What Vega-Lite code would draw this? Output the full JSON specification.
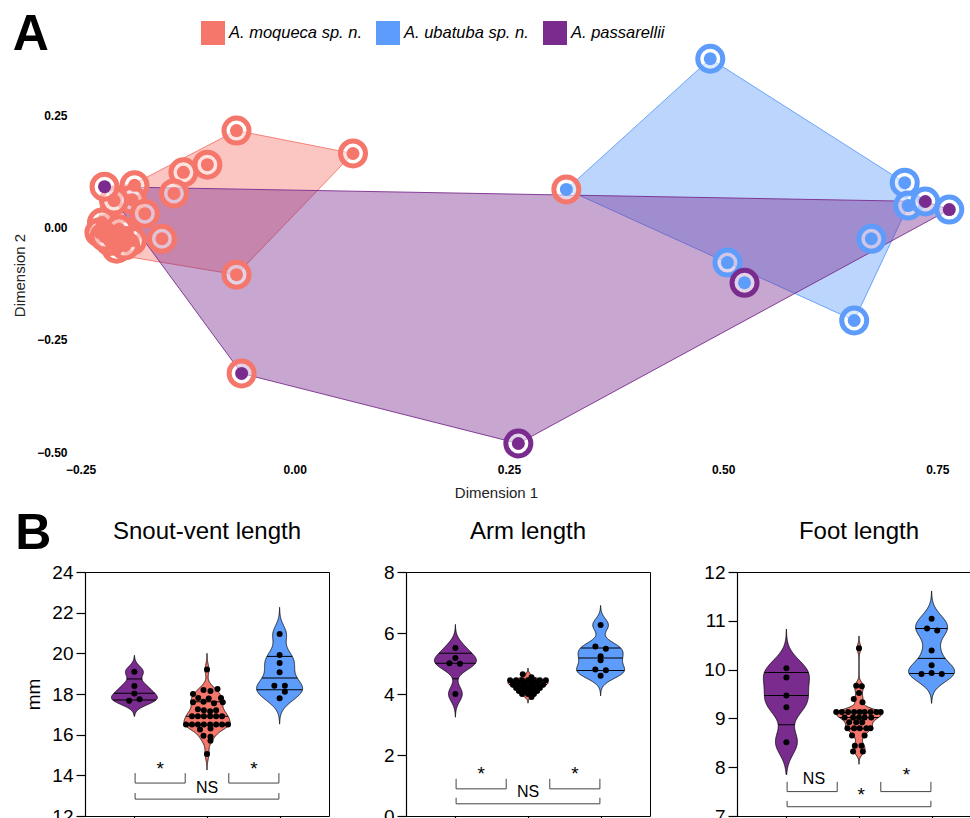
{
  "$schema": "https://vega.github.io/schema/vega-lite/v6.json",
  "padding": {"left": 12, "top": 10, "right": 0, "bottom": 0},
  "config": {
    "font": "Liberation Sans",
    "view": {"stroke": null},
    "axis": {"labelColor": "black", "titleColor": "black", "grid": false, "labelOverlap": false},
    "title": {"color": "black"}
  },
  "columns": 1,
  "align": "none",
  "bounds": "full",
  "spacing": 8,
  "datasets": {
    "pts": [
      {"d1": -0.068, "d2": 0.216, "species": "A. moqueca sp. n.", "ring": "A. moqueca sp. n."},
      {"d1": 0.068, "d2": 0.165, "species": "A. moqueca sp. n.", "ring": "A. moqueca sp. n."},
      {"d1": -0.102, "d2": 0.140, "species": "A. moqueca sp. n.", "ring": "A. moqueca sp. n."},
      {"d1": -0.130, "d2": 0.123, "species": "A. moqueca sp. n.", "ring": "A. moqueca sp. n."},
      {"d1": -0.141, "d2": 0.076, "species": "A. moqueca sp. n.", "ring": "A. moqueca sp. n."},
      {"d1": -0.187, "d2": 0.094, "species": "A. moqueca sp. n.", "ring": "A. moqueca sp. n."},
      {"d1": -0.190, "d2": 0.062, "species": "A. moqueca sp. n.", "ring": "A. moqueca sp. n."},
      {"d1": -0.211, "d2": 0.060, "species": "A. moqueca sp. n.", "ring": "A. moqueca sp. n."},
      {"d1": -0.175, "d2": 0.031, "species": "A. moqueca sp. n.", "ring": "A. moqueca sp. n."},
      {"d1": -0.155, "d2": -0.025, "species": "A. moqueca sp. n.", "ring": "A. moqueca sp. n."},
      {"d1": -0.068, "d2": -0.105, "species": "A. moqueca sp. n.", "ring": "A. moqueca sp. n."},
      {"d1": -0.219, "d2": -0.002, "species": "A. moqueca sp. n.", "ring": "A. moqueca sp. n."},
      {"d1": -0.211, "d2": -0.018, "species": "A. moqueca sp. n.", "ring": "A. moqueca sp. n."},
      {"d1": -0.202, "d2": -0.033, "species": "A. moqueca sp. n.", "ring": "A. moqueca sp. n."},
      {"d1": -0.225, "d2": 0.011, "species": "A. moqueca sp. n.", "ring": "A. moqueca sp. n."},
      {"d1": -0.196, "d2": -0.011, "species": "A. moqueca sp. n.", "ring": "A. moqueca sp. n."},
      {"d1": -0.208, "d2": -0.047, "species": "A. moqueca sp. n.", "ring": "A. moqueca sp. n."},
      {"d1": -0.190, "d2": -0.029, "species": "A. moqueca sp. n.", "ring": "A. moqueca sp. n."},
      {"d1": -0.228, "d2": -0.011, "species": "A. moqueca sp. n.", "ring": "A. moqueca sp. n."},
      {"d1": -0.205, "d2": -0.004, "species": "A. moqueca sp. n.", "ring": "A. moqueca sp. n."},
      {"d1": -0.216, "d2": -0.030, "species": "A. moqueca sp. n.", "ring": "A. moqueca sp. n."},
      {"d1": -0.198, "d2": -0.040, "species": "A. moqueca sp. n.", "ring": "A. moqueca sp. n."},
      {"d1": -0.222, "d2": -0.020, "species": "A. moqueca sp. n.", "ring": "A. moqueca sp. n."},
      {"d1": -0.222, "d2": 0.091, "species": "A. passarellii", "ring": "A. moqueca sp. n."},
      {"d1": -0.062, "d2": -0.325, "species": "A. passarellii", "ring": "A. moqueca sp. n."},
      {"d1": 0.261, "d2": -0.481, "species": "A. passarellii", "ring": "A. passarellii"},
      {"d1": 0.317, "d2": 0.085, "species": "A. ubatuba sp. n.", "ring": "A. moqueca sp. n."},
      {"d1": 0.485, "d2": 0.376, "species": "A. ubatuba sp. n.", "ring": "A. ubatuba sp. n."},
      {"d1": 0.712, "d2": 0.100, "species": "A. ubatuba sp. n.", "ring": "A. ubatuba sp. n."},
      {"d1": 0.716, "d2": 0.049, "species": "A. ubatuba sp. n.", "ring": "A. ubatuba sp. n."},
      {"d1": 0.673, "d2": -0.025, "species": "A. ubatuba sp. n.", "ring": "A. ubatuba sp. n."},
      {"d1": 0.505, "d2": -0.078, "species": "A. ubatuba sp. n.", "ring": "A. ubatuba sp. n."},
      {"d1": 0.653, "d2": -0.207, "species": "A. ubatuba sp. n.", "ring": "A. ubatuba sp. n."},
      {"d1": 0.736, "d2": 0.058, "species": "A. passarellii", "ring": "A. ubatuba sp. n."},
      {"d1": 0.764, "d2": 0.040, "species": "A. passarellii", "ring": "A. ubatuba sp. n."},
      {"d1": 0.525, "d2": -0.123, "species": "A. ubatuba sp. n.", "ring": "A. passarellii"}
    ],
    "hull": [
      {"grp": "A. moqueca sp. n.", "k": 0, "d1": -0.068, "d2": 0.216},
      {"grp": "A. moqueca sp. n.", "k": 1, "d1": 0.068, "d2": 0.165},
      {"grp": "A. moqueca sp. n.", "k": 2, "d1": -0.068, "d2": -0.105},
      {"grp": "A. moqueca sp. n.", "k": 3, "d1": -0.204, "d2": -0.062},
      {"grp": "A. moqueca sp. n.", "k": 4, "d1": -0.231, "d2": -0.007},
      {"grp": "A. moqueca sp. n.", "k": 5, "d1": -0.223, "d2": 0.087},
      {"grp": "A. moqueca sp. n.", "k": 6, "d1": -0.187, "d2": 0.098},
      {"grp": "A. moqueca sp. n.", "k": 7, "d1": -0.068, "d2": 0.216},
      {"grp": "A. ubatuba sp. n.", "k": 0, "d1": 0.317, "d2": 0.085},
      {"grp": "A. ubatuba sp. n.", "k": 1, "d1": 0.485, "d2": 0.376},
      {"grp": "A. ubatuba sp. n.", "k": 2, "d1": 0.712, "d2": 0.100},
      {"grp": "A. ubatuba sp. n.", "k": 3, "d1": 0.716, "d2": 0.049},
      {"grp": "A. ubatuba sp. n.", "k": 4, "d1": 0.653, "d2": -0.207},
      {"grp": "A. ubatuba sp. n.", "k": 5, "d1": 0.317, "d2": 0.085},
      {"grp": "A. passarellii", "k": 0, "d1": -0.222, "d2": 0.091},
      {"grp": "A. passarellii", "k": 1, "d1": 0.736, "d2": 0.058},
      {"grp": "A. passarellii", "k": 2, "d1": 0.764, "d2": 0.040},
      {"grp": "A. passarellii", "k": 3, "d1": 0.261, "d2": -0.481},
      {"grp": "A. passarellii", "k": 4, "d1": -0.062, "d2": -0.325},
      {"grp": "A. passarellii", "k": 5, "d1": -0.222, "d2": 0.091}
    ],
    "svl": [
      {"species": "A. passarellii", "value": 19.10, "slot": 0},
      {"species": "A. passarellii", "value": 18.39, "slot": 0},
      {"species": "A. passarellii", "value": 18.03, "slot": 0},
      {"species": "A. passarellii", "value": 17.67, "slot": -1.5},
      {"species": "A. passarellii", "value": 17.74, "slot": 1.5},
      {"species": "A. moqueca sp. n.", "value": 19.2, "slot": 0},
      {"species": "A. moqueca sp. n.", "value": 18.0, "slot": -4},
      {"species": "A. moqueca sp. n.", "value": 18.2, "slot": -1},
      {"species": "A. moqueca sp. n.", "value": 18.15, "slot": 1},
      {"species": "A. moqueca sp. n.", "value": 18.25, "slot": 3},
      {"species": "A. moqueca sp. n.", "value": 17.8, "slot": -2.5},
      {"species": "A. moqueca sp. n.", "value": 17.78, "slot": 0.5},
      {"species": "A. moqueca sp. n.", "value": 17.8, "slot": 4},
      {"species": "A. moqueca sp. n.", "value": 17.6, "slot": -4},
      {"species": "A. moqueca sp. n.", "value": 17.62, "slot": -1},
      {"species": "A. moqueca sp. n.", "value": 17.55, "slot": 2},
      {"species": "A. moqueca sp. n.", "value": 17.6, "slot": 4.5},
      {"species": "A. moqueca sp. n.", "value": 17.25, "slot": -2.6},
      {"species": "A. moqueca sp. n.", "value": 17.2, "slot": -0.9},
      {"species": "A. moqueca sp. n.", "value": 17.15, "slot": 0.9},
      {"species": "A. moqueca sp. n.", "value": 17.2, "slot": 2.6},
      {"species": "A. moqueca sp. n.", "value": 16.9, "slot": -4.3},
      {"species": "A. moqueca sp. n.", "value": 16.9, "slot": -2.6},
      {"species": "A. moqueca sp. n.", "value": 16.9, "slot": -0.9},
      {"species": "A. moqueca sp. n.", "value": 16.9, "slot": 0.9},
      {"species": "A. moqueca sp. n.", "value": 16.9, "slot": 2.6},
      {"species": "A. moqueca sp. n.", "value": 16.9, "slot": 4.3},
      {"species": "A. moqueca sp. n.", "value": 16.5, "slot": -6},
      {"species": "A. moqueca sp. n.", "value": 16.5, "slot": -4.3},
      {"species": "A. moqueca sp. n.", "value": 16.5, "slot": -2.6},
      {"species": "A. moqueca sp. n.", "value": 16.5, "slot": -0.9},
      {"species": "A. moqueca sp. n.", "value": 16.5, "slot": 0.9},
      {"species": "A. moqueca sp. n.", "value": 16.5, "slot": 2.6},
      {"species": "A. moqueca sp. n.", "value": 16.5, "slot": 4.3},
      {"species": "A. moqueca sp. n.", "value": 16.5, "slot": 6},
      {"species": "A. moqueca sp. n.", "value": 16.25, "slot": -2},
      {"species": "A. moqueca sp. n.", "value": 16.3, "slot": 1},
      {"species": "A. moqueca sp. n.", "value": 15.95, "slot": -1},
      {"species": "A. moqueca sp. n.", "value": 15.9, "slot": 1},
      {"species": "A. moqueca sp. n.", "value": 15.7, "slot": 1},
      {"species": "A. moqueca sp. n.", "value": 15.05, "slot": 0},
      {"species": "A. ubatuba sp. n.", "value": 20.95, "slot": 0},
      {"species": "A. ubatuba sp. n.", "value": 19.92, "slot": 0},
      {"species": "A. ubatuba sp. n.", "value": 19.52, "slot": 0},
      {"species": "A. ubatuba sp. n.", "value": 19.07, "slot": 0},
      {"species": "A. ubatuba sp. n.", "value": 18.41, "slot": -1.5},
      {"species": "A. ubatuba sp. n.", "value": 18.41, "slot": 1.5},
      {"species": "A. ubatuba sp. n.", "value": 18.11, "slot": 1.5},
      {"species": "A. ubatuba sp. n.", "value": 17.79, "slot": 0}
    ],
    "arm": [
      {"species": "A. passarellii", "value": 5.51, "slot": 0},
      {"species": "A. passarellii", "value": 5.18, "slot": 0},
      {"species": "A. passarellii", "value": 5.01, "slot": -1.7},
      {"species": "A. passarellii", "value": 4.99, "slot": 1.3},
      {"species": "A. passarellii", "value": 4.00, "slot": 0},
      {"species": "A. moqueca sp. n.", "value": 4.65, "slot": -1.5},
      {"species": "A. moqueca sp. n.", "value": 4.55, "slot": 1},
      {"species": "A. moqueca sp. n.", "value": 4.45, "slot": -5.1},
      {"species": "A. moqueca sp. n.", "value": 4.45, "slot": -3.4},
      {"species": "A. moqueca sp. n.", "value": 4.45, "slot": -1.7},
      {"species": "A. moqueca sp. n.", "value": 4.45, "slot": 0},
      {"species": "A. moqueca sp. n.", "value": 4.45, "slot": 1.7},
      {"species": "A. moqueca sp. n.", "value": 4.45, "slot": 3.4},
      {"species": "A. moqueca sp. n.", "value": 4.45, "slot": 5.1},
      {"species": "A. moqueca sp. n.", "value": 4.37, "slot": -4.3},
      {"species": "A. moqueca sp. n.", "value": 4.37, "slot": -2.6},
      {"species": "A. moqueca sp. n.", "value": 4.37, "slot": -0.9},
      {"species": "A. moqueca sp. n.", "value": 4.37, "slot": 0.9},
      {"species": "A. moqueca sp. n.", "value": 4.37, "slot": 2.6},
      {"species": "A. moqueca sp. n.", "value": 4.3, "slot": -4.3},
      {"species": "A. moqueca sp. n.", "value": 4.3, "slot": -2.6},
      {"species": "A. moqueca sp. n.", "value": 4.3, "slot": -0.9},
      {"species": "A. moqueca sp. n.", "value": 4.3, "slot": 0.9},
      {"species": "A. moqueca sp. n.", "value": 4.3, "slot": 2.6},
      {"species": "A. moqueca sp. n.", "value": 4.3, "slot": 4.3},
      {"species": "A. moqueca sp. n.", "value": 4.2, "slot": -3.4},
      {"species": "A. moqueca sp. n.", "value": 4.2, "slot": -1.7},
      {"species": "A. moqueca sp. n.", "value": 4.2, "slot": 0},
      {"species": "A. moqueca sp. n.", "value": 4.2, "slot": 1.7},
      {"species": "A. moqueca sp. n.", "value": 4.2, "slot": 3.4},
      {"species": "A. moqueca sp. n.", "value": 4.1, "slot": -2.6},
      {"species": "A. moqueca sp. n.", "value": 4.1, "slot": -0.9},
      {"species": "A. moqueca sp. n.", "value": 4.1, "slot": 0.9},
      {"species": "A. moqueca sp. n.", "value": 4.1, "slot": 2.6},
      {"species": "A. moqueca sp. n.", "value": 4.0, "slot": -1.7},
      {"species": "A. moqueca sp. n.", "value": 4.0, "slot": 0},
      {"species": "A. moqueca sp. n.", "value": 4.0, "slot": 1.7},
      {"species": "A. moqueca sp. n.", "value": 3.9, "slot": 1},
      {"species": "A. ubatuba sp. n.", "value": 6.26, "slot": 0},
      {"species": "A. ubatuba sp. n.", "value": 5.56, "slot": -1.5},
      {"species": "A. ubatuba sp. n.", "value": 5.48, "slot": 1.5},
      {"species": "A. ubatuba sp. n.", "value": 5.24, "slot": 0},
      {"species": "A. ubatuba sp. n.", "value": 5.11, "slot": 0},
      {"species": "A. ubatuba sp. n.", "value": 4.80, "slot": -1.5},
      {"species": "A. ubatuba sp. n.", "value": 4.78, "slot": 1.5},
      {"species": "A. ubatuba sp. n.", "value": 4.60, "slot": 0}
    ],
    "foot": [
      {"species": "A. passarellii", "value": 10.03, "slot": 0},
      {"species": "A. passarellii", "value": 9.84, "slot": 0},
      {"species": "A. passarellii", "value": 9.47, "slot": 0},
      {"species": "A. passarellii", "value": 9.23, "slot": 0},
      {"species": "A. passarellii", "value": 8.51, "slot": 0},
      {"species": "A. moqueca sp. n.", "value": 10.44, "slot": 0},
      {"species": "A. moqueca sp. n.", "value": 9.67, "slot": -0.8},
      {"species": "A. moqueca sp. n.", "value": 9.66, "slot": 0.8},
      {"species": "A. moqueca sp. n.", "value": 9.52, "slot": 0},
      {"species": "A. moqueca sp. n.", "value": 9.40, "slot": -1.5},
      {"species": "A. moqueca sp. n.", "value": 9.33, "slot": 1},
      {"species": "A. moqueca sp. n.", "value": 9.13, "slot": -6.5},
      {"species": "A. moqueca sp. n.", "value": 9.13, "slot": -4.9},
      {"species": "A. moqueca sp. n.", "value": 9.13, "slot": -3.1},
      {"species": "A. moqueca sp. n.", "value": 9.13, "slot": -1.4},
      {"species": "A. moqueca sp. n.", "value": 9.13, "slot": 0.2},
      {"species": "A. moqueca sp. n.", "value": 9.13, "slot": 1.6},
      {"species": "A. moqueca sp. n.", "value": 9.13, "slot": 3.3},
      {"species": "A. moqueca sp. n.", "value": 9.13, "slot": 5},
      {"species": "A. moqueca sp. n.", "value": 9.13, "slot": 6.2},
      {"species": "A. moqueca sp. n.", "value": 9.02, "slot": -4.1},
      {"species": "A. moqueca sp. n.", "value": 9.02, "slot": -1.7},
      {"species": "A. moqueca sp. n.", "value": 9.02, "slot": 0},
      {"species": "A. moqueca sp. n.", "value": 9.02, "slot": 1.6},
      {"species": "A. moqueca sp. n.", "value": 9.02, "slot": 3.5},
      {"species": "A. moqueca sp. n.", "value": 8.92, "slot": -2.8},
      {"species": "A. moqueca sp. n.", "value": 8.92, "slot": -0.8},
      {"species": "A. moqueca sp. n.", "value": 8.92, "slot": 0.9},
      {"species": "A. moqueca sp. n.", "value": 8.80, "slot": -3.3},
      {"species": "A. moqueca sp. n.", "value": 8.80, "slot": -1.4},
      {"species": "A. moqueca sp. n.", "value": 8.80, "slot": 0.2},
      {"species": "A. moqueca sp. n.", "value": 8.80, "slot": 2.1},
      {"species": "A. moqueca sp. n.", "value": 8.80, "slot": 3.3},
      {"species": "A. moqueca sp. n.", "value": 8.65, "slot": -2},
      {"species": "A. moqueca sp. n.", "value": 8.65, "slot": 1.6},
      {"species": "A. moqueca sp. n.", "value": 8.44, "slot": -1.2},
      {"species": "A. moqueca sp. n.", "value": 8.44, "slot": 0.7},
      {"species": "A. moqueca sp. n.", "value": 8.32, "slot": -1.7},
      {"species": "A. moqueca sp. n.", "value": 8.32, "slot": 1.1},
      {"species": "A. ubatuba sp. n.", "value": 11.04, "slot": 0},
      {"species": "A. ubatuba sp. n.", "value": 10.84, "slot": -1.3},
      {"species": "A. ubatuba sp. n.", "value": 10.80, "slot": 1.6},
      {"species": "A. ubatuba sp. n.", "value": 10.39, "slot": 0},
      {"species": "A. ubatuba sp. n.", "value": 10.09, "slot": 0},
      {"species": "A. ubatuba sp. n.", "value": 9.91, "slot": -2.9},
      {"species": "A. ubatuba sp. n.", "value": 9.93, "slot": 0},
      {"species": "A. ubatuba sp. n.", "value": 9.91, "slot": 2.9}
    ],
    "q_svl": [
      {"species": "A. passarellii", "q1": 17.70, "med": 18.04, "q3": 18.74},
      {"species": "A. moqueca sp. n.", "q1": 16.47, "med": 16.90, "q3": 17.62},
      {"species": "A. ubatuba sp. n.", "q1": 18.21, "med": 18.79, "q3": 19.85}
    ],
    "q_arm": [
      {"species": "A. passarellii", "q1": 4.50, "med": 5.01, "q3": 5.34},
      {"species": "A. moqueca sp. n.", "q1": 4.17, "med": 4.31, "q3": 4.44},
      {"species": "A. ubatuba sp. n.", "q1": 4.77, "med": 5.18, "q3": 5.51}
    ],
    "q_foot": [
      {"species": "A. passarellii", "q1": 8.87, "med": 9.47, "q3": 9.94},
      {"species": "A. moqueca sp. n.", "q1": 8.79, "med": 9.02, "q3": 9.12},
      {"species": "A. ubatuba sp. n.", "q1": 9.92, "med": 10.23, "q3": 10.84}
    ],
    "brk": [
      {"t": "svl", "id": "b1", "k": 0, "pos": 0.01, "y": 14.11},
      {"t": "svl", "id": "b1", "k": 1, "pos": 0.01, "y": 13.62},
      {"t": "svl", "id": "b1", "k": 2, "pos": 0.70, "y": 13.62},
      {"t": "svl", "id": "b1", "k": 3, "pos": 0.70, "y": 14.11},
      {"t": "svl", "id": "b2", "k": 0, "pos": 1.30, "y": 14.11},
      {"t": "svl", "id": "b2", "k": 1, "pos": 1.30, "y": 13.62},
      {"t": "svl", "id": "b2", "k": 2, "pos": 1.99, "y": 13.62},
      {"t": "svl", "id": "b2", "k": 3, "pos": 1.99, "y": 14.11},
      {"t": "svl", "id": "b3", "k": 0, "pos": 0.01, "y": 13.13},
      {"t": "svl", "id": "b3", "k": 1, "pos": 0.01, "y": 12.83},
      {"t": "svl", "id": "b3", "k": 2, "pos": 1.99, "y": 12.83},
      {"t": "svl", "id": "b3", "k": 3, "pos": 1.99, "y": 13.13},
      {"t": "arm", "id": "b1", "k": 0, "pos": 0.01, "y": 1.22},
      {"t": "arm", "id": "b1", "k": 1, "pos": 0.01, "y": 0.89},
      {"t": "arm", "id": "b1", "k": 2, "pos": 0.70, "y": 0.89},
      {"t": "arm", "id": "b1", "k": 3, "pos": 0.70, "y": 1.22},
      {"t": "arm", "id": "b2", "k": 0, "pos": 1.30, "y": 1.22},
      {"t": "arm", "id": "b2", "k": 1, "pos": 1.30, "y": 0.89},
      {"t": "arm", "id": "b2", "k": 2, "pos": 1.99, "y": 0.89},
      {"t": "arm", "id": "b2", "k": 3, "pos": 1.99, "y": 1.22},
      {"t": "arm", "id": "b3", "k": 0, "pos": 0.01, "y": 0.60},
      {"t": "arm", "id": "b3", "k": 1, "pos": 0.01, "y": 0.40},
      {"t": "arm", "id": "b3", "k": 2, "pos": 1.99, "y": 0.40},
      {"t": "arm", "id": "b3", "k": 3, "pos": 1.99, "y": 0.60},
      {"t": "foot", "id": "b1", "k": 0, "pos": 0.01, "y": 7.70},
      {"t": "foot", "id": "b1", "k": 1, "pos": 0.01, "y": 7.50},
      {"t": "foot", "id": "b1", "k": 2, "pos": 0.70, "y": 7.50},
      {"t": "foot", "id": "b1", "k": 3, "pos": 0.70, "y": 7.70},
      {"t": "foot", "id": "b2", "k": 0, "pos": 1.30, "y": 7.70},
      {"t": "foot", "id": "b2", "k": 1, "pos": 1.30, "y": 7.50},
      {"t": "foot", "id": "b2", "k": 2, "pos": 1.99, "y": 7.50},
      {"t": "foot", "id": "b2", "k": 3, "pos": 1.99, "y": 7.70},
      {"t": "foot", "id": "b3", "k": 0, "pos": 0.01, "y": 7.31},
      {"t": "foot", "id": "b3", "k": 1, "pos": 0.01, "y": 7.19},
      {"t": "foot", "id": "b3", "k": 2, "pos": 1.99, "y": 7.19},
      {"t": "foot", "id": "b3", "k": 3, "pos": 1.99, "y": 7.31}
    ],
    "sig": [
      {"t": "svl", "pos": 0.355, "y": 14.31, "label": "*"},
      {"t": "svl", "pos": 1.645, "y": 14.31, "label": "*"},
      {"t": "svl", "pos": 1.0, "y": 13.40, "label": "NS"},
      {"t": "arm", "pos": 0.355, "y": 1.38, "label": "*"},
      {"t": "arm", "pos": 1.645, "y": 1.38, "label": "*"},
      {"t": "arm", "pos": 1.0, "y": 0.80, "label": "NS"},
      {"t": "foot", "pos": 0.38, "y": 7.75, "label": "NS"},
      {"t": "foot", "pos": 1.655, "y": 7.85, "label": "*"},
      {"t": "foot", "pos": 1.03, "y": 7.43, "label": "*"}
    ]
  },
  "concat": [
    {
      "width": 891,
      "height": 422,
      "title": {"text": "A", "anchor": "start", "frame": "bounds", "fontSize": 50, "fontWeight": "bold", "baseline": "alphabetic", "offset": 0, "dy": 64},
      "layer": [
        {"mark": {"type": "rule", "color": "#e0e0e0", "strokeWidth": 1.5},
         "encoding": {"x": {"datum": 0, "type": "quantitative", "scale": {"domain": [-0.26, 0.78], "nice": false, "zero": false, "range": [-13, 878]},
                            "axis": {"values": [-0.25, 0, 0.25, 0.5, 0.75], "format": ".2f", "labelFontWeight": "bold", "labelFontSize": 12, "labelPadding": 3, "domain": false, "ticks": false, "grid": false, "title": "Dimension 1", "titleFontSize": 15, "titleFontWeight": "normal", "titlePadding": 10, "titleColor": "#222", "titleX": 411}}}},
        {"mark": {"type": "rule", "color": "#e0e0e0", "strokeWidth": 1.5},
         "encoding": {"y": {"datum": 0, "type": "quantitative", "scale": {"domain": [-0.52, 0.42], "nice": false, "zero": false},
                            "axis": {"values": [-0.5, -0.25, 0, 0.25], "format": ".2f", "labelFontWeight": "bold", "labelFontSize": 12, "labelPadding": 18, "domain": false, "ticks": false, "grid": false, "title": "Dimension 2", "titleFontSize": 15, "titleFontWeight": "normal", "titlePadding": 9, "titleColor": "#222", "titleY": 236}},
                      "x": {"datum": -0.27, "type": "quantitative", "scale": {"domain": [-0.26, 0.78], "nice": false, "zero": false, "range": [-13, 878]},
                            "axis": {"values": [-0.25, 0, 0.25, 0.5, 0.75], "format": ".2f", "labelFontWeight": "bold", "labelFontSize": 12, "labelPadding": 3, "domain": false, "ticks": false, "grid": false, "title": "Dimension 1", "titleFontSize": 15, "titleFontWeight": "normal", "titlePadding": 10, "titleColor": "#222", "titleX": 411}},
                      "x2": {"datum": 0.78}}},
        {"data": {"name": "hull"}, "transform": [{"filter": {"field": "grp", "equal": "A. moqueca sp. n."}}],
         "mark": {"type": "line", "filled": true, "fill": "#F5766B", "fillOpacity": 0.42, "stroke": "#F5766B", "strokeWidth": 1, "strokeOpacity": 0.9},
         "encoding": {"x": {"field": "d1", "type": "quantitative", "scale": {"domain": [-0.26, 0.78], "nice": false, "zero": false, "range": [-13, 878]},
                            "axis": {"values": [-0.25, 0, 0.25, 0.5, 0.75], "format": ".2f", "labelFontWeight": "bold", "labelFontSize": 12, "labelPadding": 3, "domain": false, "ticks": false, "grid": false, "title": "Dimension 1", "titleFontSize": 15, "titleFontWeight": "normal", "titlePadding": 10, "titleColor": "#222", "titleX": 411}},
                      "y": {"field": "d2", "type": "quantitative", "scale": {"domain": [-0.52, 0.42], "nice": false, "zero": false},
                            "axis": {"values": [-0.5, -0.25, 0, 0.25], "format": ".2f", "labelFontWeight": "bold", "labelFontSize": 12, "labelPadding": 18, "domain": false, "ticks": false, "grid": false, "title": "Dimension 2", "titleFontSize": 15, "titleFontWeight": "normal", "titlePadding": 9, "titleColor": "#222", "titleY": 236}},
                      "order": {"field": "k", "type": "quantitative"}}},
        {"data": {"name": "hull"}, "transform": [{"filter": {"field": "grp", "equal": "A. ubatuba sp. n."}}],
         "mark": {"type": "line", "filled": true, "fill": "#5E9CFB", "fillOpacity": 0.42, "stroke": "#5E9CFB", "strokeWidth": 1, "strokeOpacity": 0.9},
         "encoding": {"x": {"field": "d1", "type": "quantitative", "scale": {"domain": [-0.26, 0.78], "nice": false, "zero": false, "range": [-13, 878]},
                            "axis": {"values": [-0.25, 0, 0.25, 0.5, 0.75], "format": ".2f", "labelFontWeight": "bold", "labelFontSize": 12, "labelPadding": 3, "domain": false, "ticks": false, "grid": false, "title": "Dimension 1", "titleFontSize": 15, "titleFontWeight": "normal", "titlePadding": 10, "titleColor": "#222", "titleX": 411}},
                      "y": {"field": "d2", "type": "quantitative", "scale": {"domain": [-0.52, 0.42], "nice": false, "zero": false},
                            "axis": {"values": [-0.5, -0.25, 0, 0.25], "format": ".2f", "labelFontWeight": "bold", "labelFontSize": 12, "labelPadding": 18, "domain": false, "ticks": false, "grid": false, "title": "Dimension 2", "titleFontSize": 15, "titleFontWeight": "normal", "titlePadding": 9, "titleColor": "#222", "titleY": 236}},
                      "order": {"field": "k", "type": "quantitative"}}},
        {"data": {"name": "hull"}, "transform": [{"filter": {"field": "grp", "equal": "A. passarellii"}}],
         "mark": {"type": "line", "filled": true, "fill": "#7A2C8E", "fillOpacity": 0.42, "stroke": "#7A2C8E", "strokeWidth": 1, "strokeOpacity": 0.9},
         "encoding": {"x": {"field": "d1", "type": "quantitative", "scale": {"domain": [-0.26, 0.78], "nice": false, "zero": false, "range": [-13, 878]},
                            "axis": {"values": [-0.25, 0, 0.25, 0.5, 0.75], "format": ".2f", "labelFontWeight": "bold", "labelFontSize": 12, "labelPadding": 3, "domain": false, "ticks": false, "grid": false, "title": "Dimension 1", "titleFontSize": 15, "titleFontWeight": "normal", "titlePadding": 10, "titleColor": "#222", "titleX": 411}},
                      "y": {"field": "d2", "type": "quantitative", "scale": {"domain": [-0.52, 0.42], "nice": false, "zero": false},
                            "axis": {"values": [-0.5, -0.25, 0, 0.25], "format": ".2f", "labelFontWeight": "bold", "labelFontSize": 12, "labelPadding": 18, "domain": false, "ticks": false, "grid": false, "title": "Dimension 2", "titleFontSize": 15, "titleFontWeight": "normal", "titlePadding": 9, "titleColor": "#222", "titleY": 236}},
                      "order": {"field": "k", "type": "quantitative"}}},
        {"data": {"name": "pts"},
         "mark": {"type": "point", "shape": "circle", "filled": false, "fill": "white", "fillOpacity": 0.5, "strokeWidth": 5, "size": 625, "opacity": 1, "strokeOpacity": 1},
         "encoding": {"x": {"field": "d1", "type": "quantitative", "scale": {"domain": [-0.26, 0.78], "nice": false, "zero": false, "range": [-13, 878]},
                            "axis": {"values": [-0.25, 0, 0.25, 0.5, 0.75], "format": ".2f", "labelFontWeight": "bold", "labelFontSize": 12, "labelPadding": 3, "domain": false, "ticks": false, "grid": false, "title": "Dimension 1", "titleFontSize": 15, "titleFontWeight": "normal", "titlePadding": 10, "titleColor": "#222", "titleX": 411}},
                      "y": {"field": "d2", "type": "quantitative", "scale": {"domain": [-0.52, 0.42], "nice": false, "zero": false},
                            "axis": {"values": [-0.5, -0.25, 0, 0.25], "format": ".2f", "labelFontWeight": "bold", "labelFontSize": 12, "labelPadding": 18, "domain": false, "ticks": false, "grid": false, "title": "Dimension 2", "titleFontSize": 15, "titleFontWeight": "normal", "titlePadding": 9, "titleColor": "#222", "titleY": 236}},
                      "stroke": {"field": "ring", "type": "nominal", "scale": {"domain": ["A. passarellii", "A. moqueca sp. n.", "A. ubatuba sp. n."], "range": ["#7A2C8E", "#F5766B", "#5E9CFB"]}, "legend": null}}},
        {"data": {"name": "pts"},
         "mark": {"type": "circle", "size": 169, "opacity": 1},
         "encoding": {"x": {"field": "d1", "type": "quantitative", "scale": {"domain": [-0.26, 0.78], "nice": false, "zero": false, "range": [-13, 878]},
                            "axis": {"values": [-0.25, 0, 0.25, 0.5, 0.75], "format": ".2f", "labelFontWeight": "bold", "labelFontSize": 12, "labelPadding": 3, "domain": false, "ticks": false, "grid": false, "title": "Dimension 1", "titleFontSize": 15, "titleFontWeight": "normal", "titlePadding": 10, "titleColor": "#222", "titleX": 411}},
                      "y": {"field": "d2", "type": "quantitative", "scale": {"domain": [-0.52, 0.42], "nice": false, "zero": false},
                            "axis": {"values": [-0.5, -0.25, 0, 0.25], "format": ".2f", "labelFontWeight": "bold", "labelFontSize": 12, "labelPadding": 18, "domain": false, "ticks": false, "grid": false, "title": "Dimension 2", "titleFontSize": 15, "titleFontWeight": "normal", "titlePadding": 9, "titleColor": "#222", "titleY": 236}},
                      "color": {"field": "species", "type": "nominal", "scale": {"domain": ["A. moqueca sp. n.", "A. ubatuba sp. n.", "A. passarellii"], "range": ["#F5766B", "#5E9CFB", "#7A2C8E"]},
                                "legend": {"title": null, "orient": "none", "legendX": 116, "legendY": -18, "direction": "horizontal", "symbolType": "square", "symbolSize": 576, "symbolOpacity": 1, "symbolStrokeWidth": 0, "labelFontSize": 16.5, "labelFontStyle": "italic", "labelColor": "black", "columnPadding": 14, "labelOffset": 4}}}}
      ]
    },
    {
      "title": {"text": "B", "anchor": "start", "frame": "bounds", "fontSize": 50, "fontWeight": "bold", "baseline": "alphabetic", "offset": 0, "dy": 79, "dx": -9},
      "spacing": 52,
      "bounds": "full",
      "align": "each",
      "hconcat": [
        {
          "width": 244, "height": 244,
          "title": {"text": "Snout-vent length", "fontSize": 24, "fontWeight": "normal", "baseline": "alphabetic", "offset": 0},
          "view": {"stroke": "black", "strokeWidth": 1},
          "resolve": {"scale": {"x": "independent"}},
          "layer": [
            {"data": {"name": "svl"},
             "transform": [{"filter": {"field": "species", "equal": "A. passarellii"}}, {"density": "value", "groupby": ["species"], "bandwidth": 0.27, "extent": [16.9, 19.9], "steps": 300}, {"lookup": "species", "from": {"data": {"name": "q_svl"}, "key": "species", "fields": ["q1", "med", "q3"]}}],
             "encoding": {"y": {"field": "value", "type": "quantitative", "scale": {"domain": [12, 24], "nice": false, "zero": false, "padding": 0},
                                "axis": {"values": [12, 14, 16, 18, 20, 22, 24], "title": "mm", "titleFontSize": 19, "titleFontWeight": "normal", "titlePadding": 8, "labelFontSize": 19, "labelPadding": 3, "tickSize": 9, "tickColor": "black", "tickWidth": 1.2, "domainColor": "black", "domainWidth": 1.2, "grid": false}},
                          "x": {"field": "density", "type": "quantitative", "stack": "center", "scale": {"nice": false, "zero": true, "range": [26.4, 72.4]}, "axis": null}},
             "layer": [
               {"mark": {"type": "area", "orient": "horizontal", "fill": "#7A2C8E", "stroke": "black", "strokeWidth": 0.8, "opacity": 1}},
               {"mark": {"type": "bar", "orient": "horizontal", "height": 1, "fill": "black"},
                "encoding": {"opacity": {"condition": {"test": "abs(datum.value-datum.q1)<0.006 || abs(datum.value-datum.med)<0.006 || abs(datum.value-datum.q3)<0.006", "value": 1}, "value": 0}}}
             ]},
            {"data": {"name": "svl"},
             "transform": [{"filter": {"field": "species", "equal": "A. moqueca sp. n."}}, {"density": "value", "groupby": ["species"], "bandwidth": 0.27, "extent": [14.26, 20.0], "steps": 574}, {"lookup": "species", "from": {"data": {"name": "q_svl"}, "key": "species", "fields": ["q1", "med", "q3"]}}],
             "encoding": {"y": {"field": "value", "type": "quantitative", "scale": {"domain": [12, 24], "nice": false, "zero": false, "padding": 0},
                                "axis": {"values": [12, 14, 16, 18, 20, 22, 24], "title": "mm", "titleFontSize": 19, "titleFontWeight": "normal", "titlePadding": 8, "labelFontSize": 19, "labelPadding": 3, "tickSize": 9, "tickColor": "black", "tickWidth": 1.2, "domainColor": "black", "domainWidth": 1.2, "grid": false}},
                          "x": {"field": "density", "type": "quantitative", "stack": "center", "scale": {"nice": false, "zero": true, "range": [99, 145]}, "axis": null}},
             "layer": [
               {"mark": {"type": "area", "orient": "horizontal", "fill": "#F5766B", "stroke": "black", "strokeWidth": 0.8, "opacity": 1}},
               {"mark": {"type": "bar", "orient": "horizontal", "height": 1, "fill": "black"},
                "encoding": {"opacity": {"condition": {"test": "abs(datum.value-datum.q1)<0.006 || abs(datum.value-datum.med)<0.006 || abs(datum.value-datum.q3)<0.006", "value": 1}, "value": 0}}}
             ]},
            {"data": {"name": "svl"},
             "transform": [{"filter": {"field": "species", "equal": "A. ubatuba sp. n."}}, {"density": "value", "groupby": ["species"], "bandwidth": 0.42, "extent": [16.52, 22.26], "steps": 574}, {"lookup": "species", "from": {"data": {"name": "q_svl"}, "key": "species", "fields": ["q1", "med", "q3"]}}],
             "encoding": {"y": {"field": "value", "type": "quantitative", "scale": {"domain": [12, 24], "nice": false, "zero": false, "padding": 0},
                                "axis": {"values": [12, 14, 16, 18, 20, 22, 24], "title": "mm", "titleFontSize": 19, "titleFontWeight": "normal", "titlePadding": 8, "labelFontSize": 19, "labelPadding": 3, "tickSize": 9, "tickColor": "black", "tickWidth": 1.2, "domainColor": "black", "domainWidth": 1.2, "grid": false}},
                          "x": {"field": "density", "type": "quantitative", "stack": "center", "scale": {"nice": false, "zero": true, "range": [171.6, 217.6]}, "axis": null}},
             "layer": [
               {"mark": {"type": "area", "orient": "horizontal", "fill": "#5E9CFB", "stroke": "black", "strokeWidth": 0.8, "opacity": 1}},
               {"mark": {"type": "bar", "orient": "horizontal", "height": 1, "fill": "black"},
                "encoding": {"opacity": {"condition": {"test": "abs(datum.value-datum.q1)<0.006 || abs(datum.value-datum.med)<0.006 || abs(datum.value-datum.q3)<0.006", "value": 1}, "value": 0}}}
             ]},
            {"data": {"name": "svl"},
             "mark": {"type": "circle", "size": 36, "color": "black", "opacity": 1},
             "encoding": {
               "x": {"field": "species", "type": "nominal", "scale": {"type": "point", "domain": ["A. passarellii", "A. moqueca sp. n.", "A. ubatuba sp. n."], "padding": 0.68},
                     "axis": {"title": null, "labels": false, "ticks": true, "tickSize": 6, "tickColor": "black", "tickWidth": 1.2, "domain": false, "grid": false}},
               "xOffset": {"field": "slot", "type": "quantitative", "scale": {"domain": [-7, 7], "range": [-24.5, 24.5]}},
               "y": {"field": "value", "type": "quantitative", "scale": {"domain": [12, 24], "nice": false, "zero": false, "padding": 0},
                     "axis": {"values": [12, 14, 16, 18, 20, 22, 24], "title": "mm", "titleFontSize": 19, "titleFontWeight": "normal", "titlePadding": 8, "labelFontSize": 19, "labelPadding": 3, "tickSize": 9, "tickColor": "black", "tickWidth": 1.2, "domainColor": "black", "domainWidth": 1.2, "grid": false}}}},
            {"data": {"name": "brk"}, "transform": [{"filter": {"field": "t", "equal": "svl"}}],
             "mark": {"type": "line", "color": "#444444", "strokeWidth": 1},
             "encoding": {"x": {"field": "pos", "type": "quantitative", "scale": {"domain": [-0.68, 2.68], "nice": false, "zero": false}, "axis": null},
                          "y": {"field": "y", "type": "quantitative", "scale": {"domain": [12, 24], "nice": false, "zero": false, "padding": 0},
                                "axis": {"values": [12, 14, 16, 18, 20, 22, 24], "title": "mm", "titleFontSize": 19, "titleFontWeight": "normal", "titlePadding": 8, "labelFontSize": 19, "labelPadding": 3, "tickSize": 9, "tickColor": "black", "tickWidth": 1.2, "domainColor": "black", "domainWidth": 1.2, "grid": false}},
                          "detail": {"field": "id", "type": "nominal"}, "order": {"field": "k", "type": "quantitative"}}},
            {"data": {"name": "sig"}, "transform": [{"filter": {"field": "t", "equal": "svl"}}],
             "mark": {"type": "text", "color": "black", "baseline": "middle"},
             "encoding": {"x": {"field": "pos", "type": "quantitative", "scale": {"domain": [-0.68, 2.68], "nice": false, "zero": false}, "axis": null},
                          "y": {"field": "y", "type": "quantitative", "scale": {"domain": [12, 24], "nice": false, "zero": false, "padding": 0},
                                "axis": {"values": [12, 14, 16, 18, 20, 22, 24], "title": "mm", "titleFontSize": 19, "titleFontWeight": "normal", "titlePadding": 8, "labelFontSize": 19, "labelPadding": 3, "tickSize": 9, "tickColor": "black", "tickWidth": 1.2, "domainColor": "black", "domainWidth": 1.2, "grid": false}},
                          "size": {"condition": {"test": "datum.label == '*'", "value": 19}, "value": 16},
                          "text": {"field": "label"}}}
          ]
        },
        {
          "width": 244, "height": 244,
          "title": {"text": "Arm length", "fontSize": 24, "fontWeight": "normal", "baseline": "alphabetic", "offset": 0},
          "view": {"stroke": "black", "strokeWidth": 1},
          "resolve": {"scale": {"x": "independent"}},
          "layer": [
            {"data": {"name": "arm"},
             "transform": [{"filter": {"field": "species", "equal": "A. passarellii"}}, {"density": "value", "groupby": ["species"], "bandwidth": 0.25, "extent": [3.24, 6.28], "steps": 304}, {"lookup": "species", "from": {"data": {"name": "q_arm"}, "key": "species", "fields": ["q1", "med", "q3"]}}],
             "encoding": {"y": {"field": "value", "type": "quantitative", "scale": {"domain": [0, 8], "nice": false, "zero": false, "padding": 0},
                                "axis": {"values": [0, 2, 4, 6, 8], "title": null, "labelFontSize": 19, "labelPadding": 3, "tickSize": 9, "tickColor": "black", "tickWidth": 1.2, "domainColor": "black", "domainWidth": 1.2, "grid": false}},
                          "x": {"field": "density", "type": "quantitative", "stack": "center", "scale": {"nice": false, "zero": true, "range": [28.4, 70.4]}, "axis": null}},
             "layer": [
               {"mark": {"type": "area", "orient": "horizontal", "fill": "#7A2C8E", "stroke": "black", "strokeWidth": 0.8, "opacity": 1}},
               {"mark": {"type": "bar", "orient": "horizontal", "height": 1, "fill": "black"},
                "encoding": {"opacity": {"condition": {"test": "abs(datum.value-datum.q1)<0.006 || abs(datum.value-datum.med)<0.006 || abs(datum.value-datum.q3)<0.006", "value": 1}, "value": 0}}}
             ]},
            {"data": {"name": "arm"},
             "transform": [{"filter": {"field": "species", "equal": "A. moqueca sp. n."}}, {"density": "value", "groupby": ["species"], "bandwidth": 0.07, "extent": [3.70, 4.85], "steps": 115}, {"lookup": "species", "from": {"data": {"name": "q_arm"}, "key": "species", "fields": ["q1", "med", "q3"]}}],
             "encoding": {"y": {"field": "value", "type": "quantitative", "scale": {"domain": [0, 8], "nice": false, "zero": false, "padding": 0},
                                "axis": {"values": [0, 2, 4, 6, 8], "title": null, "labelFontSize": 19, "labelPadding": 3, "tickSize": 9, "tickColor": "black", "tickWidth": 1.2, "domainColor": "black", "domainWidth": 1.2, "grid": false}},
                          "x": {"field": "density", "type": "quantitative", "stack": "center", "scale": {"nice": false, "zero": true, "range": [102, 142]}, "axis": null}},
             "layer": [
               {"mark": {"type": "area", "orient": "horizontal", "fill": "#F5766B", "stroke": "black", "strokeWidth": 0.8, "opacity": 1}},
               {"mark": {"type": "bar", "orient": "horizontal", "height": 1, "fill": "black"},
                "encoding": {"opacity": {"condition": {"test": "abs(datum.value-datum.q1)<0.006 || abs(datum.value-datum.med)<0.006 || abs(datum.value-datum.q3)<0.006", "value": 1}, "value": 0}}}
             ]},
            {"data": {"name": "arm"},
             "transform": [{"filter": {"field": "species", "equal": "A. ubatuba sp. n."}}, {"density": "value", "groupby": ["species"], "bandwidth": 0.21, "extent": [3.94, 6.90], "steps": 296}, {"lookup": "species", "from": {"data": {"name": "q_arm"}, "key": "species", "fields": ["q1", "med", "q3"]}}],
             "encoding": {"y": {"field": "value", "type": "quantitative", "scale": {"domain": [0, 8], "nice": false, "zero": false, "padding": 0},
                                "axis": {"values": [0, 2, 4, 6, 8], "title": null, "labelFontSize": 19, "labelPadding": 3, "tickSize": 9, "tickColor": "black", "tickWidth": 1.2, "domainColor": "black", "domainWidth": 1.2, "grid": false}},
                          "x": {"field": "density", "type": "quantitative", "stack": "center", "scale": {"nice": false, "zero": true, "range": [170.6, 218.6]}, "axis": null}},
             "layer": [
               {"mark": {"type": "area", "orient": "horizontal", "fill": "#5E9CFB", "stroke": "black", "strokeWidth": 0.8, "opacity": 1}},
               {"mark": {"type": "bar", "orient": "horizontal", "height": 1, "fill": "black"},
                "encoding": {"opacity": {"condition": {"test": "abs(datum.value-datum.q1)<0.006 || abs(datum.value-datum.med)<0.006 || abs(datum.value-datum.q3)<0.006", "value": 1}, "value": 0}}}
             ]},
            {"data": {"name": "arm"},
             "mark": {"type": "circle", "size": 36, "color": "black", "opacity": 1},
             "encoding": {
               "x": {"field": "species", "type": "nominal", "scale": {"type": "point", "domain": ["A. passarellii", "A. moqueca sp. n.", "A. ubatuba sp. n."], "padding": 0.68},
                     "axis": {"title": null, "labels": false, "ticks": true, "tickSize": 6, "tickColor": "black", "tickWidth": 1.2, "domain": false, "grid": false}},
               "xOffset": {"field": "slot", "type": "quantitative", "scale": {"domain": [-7, 7], "range": [-24.5, 24.5]}},
               "y": {"field": "value", "type": "quantitative", "scale": {"domain": [0, 8], "nice": false, "zero": false, "padding": 0},
                     "axis": {"values": [0, 2, 4, 6, 8], "title": null, "labelFontSize": 19, "labelPadding": 3, "tickSize": 9, "tickColor": "black", "tickWidth": 1.2, "domainColor": "black", "domainWidth": 1.2, "grid": false}}}},
            {"data": {"name": "brk"}, "transform": [{"filter": {"field": "t", "equal": "arm"}}],
             "mark": {"type": "line", "color": "#444444", "strokeWidth": 1},
             "encoding": {"x": {"field": "pos", "type": "quantitative", "scale": {"domain": [-0.68, 2.68], "nice": false, "zero": false}, "axis": null},
                          "y": {"field": "y", "type": "quantitative", "scale": {"domain": [0, 8], "nice": false, "zero": false, "padding": 0},
                                "axis": {"values": [0, 2, 4, 6, 8], "title": null, "labelFontSize": 19, "labelPadding": 3, "tickSize": 9, "tickColor": "black", "tickWidth": 1.2, "domainColor": "black", "domainWidth": 1.2, "grid": false}},
                          "detail": {"field": "id", "type": "nominal"}, "order": {"field": "k", "type": "quantitative"}}},
            {"data": {"name": "sig"}, "transform": [{"filter": {"field": "t", "equal": "arm"}}],
             "mark": {"type": "text", "color": "black", "baseline": "middle"},
             "encoding": {"x": {"field": "pos", "type": "quantitative", "scale": {"domain": [-0.68, 2.68], "nice": false, "zero": false}, "axis": null},
                          "y": {"field": "y", "type": "quantitative", "scale": {"domain": [0, 8], "nice": false, "zero": false, "padding": 0},
                                "axis": {"values": [0, 2, 4, 6, 8], "title": null, "labelFontSize": 19, "labelPadding": 3, "tickSize": 9, "tickColor": "black", "tickWidth": 1.2, "domainColor": "black", "domainWidth": 1.2, "grid": false}},
                          "size": {"condition": {"test": "datum.label == '*'", "value": 19}, "value": 16},
                          "text": {"field": "label"}}}
          ]
        },
        {
          "width": 244, "height": 244,
          "title": {"text": "Foot length", "fontSize": 24, "fontWeight": "normal", "baseline": "alphabetic", "offset": 0},
          "view": {"stroke": "black", "strokeWidth": 1},
          "resolve": {"scale": {"x": "independent"}},
          "layer": [
            {"data": {"name": "foot"},
             "transform": [{"filter": {"field": "species", "equal": "A. passarellii"}}, {"density": "value", "groupby": ["species"], "bandwidth": 0.25, "extent": [7.85, 10.83], "steps": 298}, {"lookup": "species", "from": {"data": {"name": "q_foot"}, "key": "species", "fields": ["q1", "med", "q3"]}}],
             "encoding": {"y": {"field": "value", "type": "quantitative", "scale": {"domain": [7, 12], "nice": false, "zero": false, "padding": 0},
                                "axis": {"values": [7, 8, 9, 10, 11, 12], "title": null, "labelFontSize": 19, "labelPadding": 3, "tickSize": 9, "tickColor": "black", "tickWidth": 1.2, "domainColor": "black", "domainWidth": 1.2, "grid": false}},
                          "x": {"field": "density", "type": "quantitative", "stack": "center", "scale": {"nice": false, "zero": true, "range": [26.4, 72.4]}, "axis": null}},
             "layer": [
               {"mark": {"type": "area", "orient": "horizontal", "fill": "#7A2C8E", "stroke": "black", "strokeWidth": 0.8, "opacity": 1}},
               {"mark": {"type": "bar", "orient": "horizontal", "height": 1, "fill": "black"},
                "encoding": {"opacity": {"condition": {"test": "abs(datum.value-datum.q1)<0.006 || abs(datum.value-datum.med)<0.006 || abs(datum.value-datum.q3)<0.006", "value": 1}, "value": 0}}}
             ]},
            {"data": {"name": "foot"},
             "transform": [{"filter": {"field": "species", "equal": "A. moqueca sp. n."}}, {"density": "value", "groupby": ["species"], "bandwidth": 0.08, "extent": [8.06, 10.69], "steps": 263}, {"lookup": "species", "from": {"data": {"name": "q_foot"}, "key": "species", "fields": ["q1", "med", "q3"]}}],
             "encoding": {"y": {"field": "value", "type": "quantitative", "scale": {"domain": [7, 12], "nice": false, "zero": false, "padding": 0},
                                "axis": {"values": [7, 8, 9, 10, 11, 12], "title": null, "labelFontSize": 19, "labelPadding": 3, "tickSize": 9, "tickColor": "black", "tickWidth": 1.2, "domainColor": "black", "domainWidth": 1.2, "grid": false}},
                          "x": {"field": "density", "type": "quantitative", "stack": "center", "scale": {"nice": false, "zero": true, "range": [99, 145]}, "axis": null}},
             "layer": [
               {"mark": {"type": "area", "orient": "horizontal", "fill": "#F5766B", "stroke": "black", "strokeWidth": 0.8, "opacity": 1}},
               {"mark": {"type": "bar", "orient": "horizontal", "height": 1, "fill": "black"},
                "encoding": {"opacity": {"condition": {"test": "abs(datum.value-datum.q1)<0.006 || abs(datum.value-datum.med)<0.006 || abs(datum.value-datum.q3)<0.006", "value": 1}, "value": 0}}}
             ]},
            {"data": {"name": "foot"},
             "transform": [{"filter": {"field": "species", "equal": "A. ubatuba sp. n."}}, {"density": "value", "groupby": ["species"], "bandwidth": 0.19, "extent": [9.31, 11.61], "steps": 230}, {"lookup": "species", "from": {"data": {"name": "q_foot"}, "key": "species", "fields": ["q1", "med", "q3"]}}],
             "encoding": {"y": {"field": "value", "type": "quantitative", "scale": {"domain": [7, 12], "nice": false, "zero": false, "padding": 0},
                                "axis": {"values": [7, 8, 9, 10, 11, 12], "title": null, "labelFontSize": 19, "labelPadding": 3, "tickSize": 9, "tickColor": "black", "tickWidth": 1.2, "domainColor": "black", "domainWidth": 1.2, "grid": false}},
                          "x": {"field": "density", "type": "quantitative", "stack": "center", "scale": {"nice": false, "zero": true, "range": [171.6, 217.6]}, "axis": null}},
             "layer": [
               {"mark": {"type": "area", "orient": "horizontal", "fill": "#5E9CFB", "stroke": "black", "strokeWidth": 0.8, "opacity": 1}},
               {"mark": {"type": "bar", "orient": "horizontal", "height": 1, "fill": "black"},
                "encoding": {"opacity": {"condition": {"test": "abs(datum.value-datum.q1)<0.006 || abs(datum.value-datum.med)<0.006 || abs(datum.value-datum.q3)<0.006", "value": 1}, "value": 0}}}
             ]},
            {"data": {"name": "foot"},
             "mark": {"type": "circle", "size": 36, "color": "black", "opacity": 1},
             "encoding": {
               "x": {"field": "species", "type": "nominal", "scale": {"type": "point", "domain": ["A. passarellii", "A. moqueca sp. n.", "A. ubatuba sp. n."], "padding": 0.68},
                     "axis": {"title": null, "labels": false, "ticks": true, "tickSize": 6, "tickColor": "black", "tickWidth": 1.2, "domain": false, "grid": false}},
               "xOffset": {"field": "slot", "type": "quantitative", "scale": {"domain": [-7, 7], "range": [-24.5, 24.5]}},
               "y": {"field": "value", "type": "quantitative", "scale": {"domain": [7, 12], "nice": false, "zero": false, "padding": 0},
                     "axis": {"values": [7, 8, 9, 10, 11, 12], "title": null, "labelFontSize": 19, "labelPadding": 3, "tickSize": 9, "tickColor": "black", "tickWidth": 1.2, "domainColor": "black", "domainWidth": 1.2, "grid": false}}}},
            {"data": {"name": "brk"}, "transform": [{"filter": {"field": "t", "equal": "foot"}}],
             "mark": {"type": "line", "color": "#444444", "strokeWidth": 1},
             "encoding": {"x": {"field": "pos", "type": "quantitative", "scale": {"domain": [-0.68, 2.68], "nice": false, "zero": false}, "axis": null},
                          "y": {"field": "y", "type": "quantitative", "scale": {"domain": [7, 12], "nice": false, "zero": false, "padding": 0},
                                "axis": {"values": [7, 8, 9, 10, 11, 12], "title": null, "labelFontSize": 19, "labelPadding": 3, "tickSize": 9, "tickColor": "black", "tickWidth": 1.2, "domainColor": "black", "domainWidth": 1.2, "grid": false}},
                          "detail": {"field": "id", "type": "nominal"}, "order": {"field": "k", "type": "quantitative"}}},
            {"data": {"name": "sig"}, "transform": [{"filter": {"field": "t", "equal": "foot"}}],
             "mark": {"type": "text", "color": "black", "baseline": "middle"},
             "encoding": {"x": {"field": "pos", "type": "quantitative", "scale": {"domain": [-0.68, 2.68], "nice": false, "zero": false}, "axis": null},
                          "y": {"field": "y", "type": "quantitative", "scale": {"domain": [7, 12], "nice": false, "zero": false, "padding": 0},
                                "axis": {"values": [7, 8, 9, 10, 11, 12], "title": null, "labelFontSize": 19, "labelPadding": 3, "tickSize": 9, "tickColor": "black", "tickWidth": 1.2, "domainColor": "black", "domainWidth": 1.2, "grid": false}},
                          "size": {"condition": {"test": "datum.label == '*'", "value": 19}, "value": 16},
                          "text": {"field": "label"}}}
          ]
        }
      ]
    }
  ]
}
